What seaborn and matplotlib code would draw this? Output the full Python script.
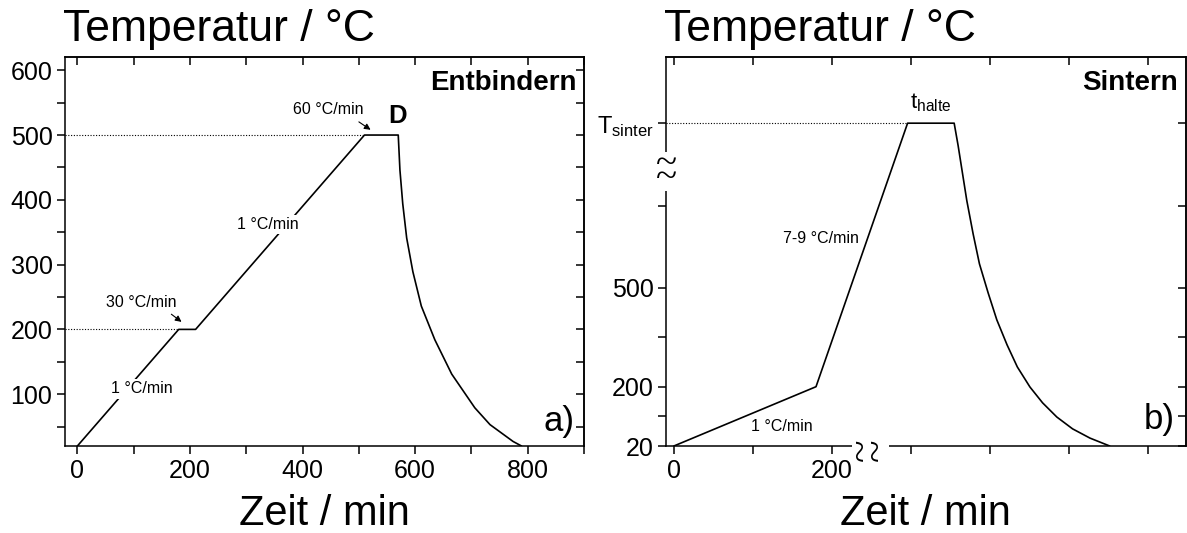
import matplotlib
matplotlib.use("Agg")
import matplotlib.pyplot as plt
from matplotlib.patches import Rectangle
import seaborn as sns
import pandas as pd

# ---------------- data ----------------
# a) Entbindern (debinding)
left_time = [0, 180, 210, 510, 570, 573, 578, 585, 596, 611, 635, 665, 706, 733, 774, 789]
left_temp = [20, 200, 200, 500, 500, 446, 394, 341, 289, 236, 184, 131, 79, 53, 27, 20]
left_hold_levels = [200, 500]

left_xticks = [0, 100, 200, 300, 400, 500, 600, 700, 800, 900]
left_xticklabels = ["0", "", "200", "", "400", "", "600", "", "800", ""]
left_yticks = [50, 100, 150, 200, 250, 300, 350, 400, 450, 500, 550, 600]
left_yticklabels = ["", "100", "", "200", "", "300", "", "400", "", "500", "", "600"]

# b) Sintern (sintering), broken temperature axis
right_time = [0, 180, 296, 355, 360, 365, 371, 379, 387, 398, 409, 422, 435, 451, 467, 485, 505, 527, 552]
right_temp = [20, 200, 1000, 1000, 932, 856, 765, 664, 573, 485, 403, 327, 260, 199, 151, 108, 72, 44, 20]
right_hold_levels = [1000]

right_xticks = [0, 100, 200, 300, 400, 500, 600]
right_xticklabels = ["0", "", "200", "", "", "", ""]
right_yticks = [20, 110, 200, 350, 500, 750, 1000]
right_yticklabels = ["20", "", "200", "", "500", "", r"$\mathregular{T_{sinter}}$"]

# axis breaks of panel b)
brk_y = 853              # temperature at the break of the y axis
brk_y_half = 60          # half height of the spine gap (data units)
brk_x = 249              # time at the break of the x axis
brk_x_half = 23          # half width of the spine gap (data units)

# ---------------- style ----------------
sns.set_style("ticks")
plt.rcParams["font.family"] = ["Liberation Sans", "DejaVu Sans"]
plt.rcParams["mathtext.fontset"] = "custom"
plt.rcParams["mathtext.rm"] = "Liberation Sans"
for k in ["text.color", "axes.labelcolor", "xtick.color", "ytick.color", "axes.edgecolor"]:
    plt.rcParams[k] = "black"
plt.rcParams["axes.linewidth"] = 1.1

W, H = 1187, 533
fig = plt.figure(figsize=(W / 100, H / 100), dpi=100)
axL = fig.add_axes([65 / W, (H - 446) / H, (584 - 65) / W, (446 - 57.3) / H])
axR = fig.add_axes([666 / W, (H - 446) / H, (1185.5 - 666) / W, (446 - 57.3) / H])

dfL = pd.DataFrame({"Zeit": left_time, "Temperatur": left_temp})
dfR = pd.DataFrame({"Zeit": right_time, "Temperatur": right_temp})

sns.lineplot(data=dfL, x="Zeit", y="Temperatur", ax=axL, color="black", lw=1.2,
             sort=False, estimator=None)
sns.lineplot(data=dfR, x="Zeit", y="Temperatur", ax=axR, color="black", lw=1.2,
             sort=False, estimator=None)

axL.set_xlim(-22, 900)
axL.set_ylim(20, 620)
axR.set_xlim(-10, 648)
axR.set_ylim(20, 1200)

# dotted guide lines from the y axis to the start of each hold
for ax, times, temps, levels in [(axL, left_time, left_temp, left_hold_levels),
                                 (axR, right_time, right_temp, right_hold_levels)]:
    x0 = ax.get_xlim()[0]
    for lev in levels:
        t_start = times[temps.index(lev)]
        ax.plot([x0, t_start], [lev, lev], color="black", lw=0.8,
                linestyle=(0, (1, 1.5)), zorder=1)


def style_axis(ax, xt, xtl, yt, ytl):
    ax.set_xticks(xt)
    ax.set_xticklabels(xtl)
    ax.set_yticks(yt)
    ax.set_yticklabels(ytl)
    ax.tick_params(direction="out", length=6, width=1.1, labelsize=18, pad=3,
                   colors="black")
    ax.set_xlabel("")
    ax.set_ylabel("")
    for s in ax.spines.values():
        s.set_visible(True)
        s.set_linewidth(1.1)
        s.set_color("black")
    secx = ax.secondary_xaxis("top")
    secx.set_xticks(xt)
    secx.tick_params(direction="in", length=6, width=1.1, labeltop=False, colors="black")
    secy = ax.secondary_yaxis("right")
    secy.set_yticks(yt)
    secy.tick_params(direction="in", length=6, width=1.1, labelright=False, colors="black")


style_axis(axL, left_xticks, left_xticklabels, left_yticks, left_yticklabels)
style_axis(axR, right_xticks, right_xticklabels, right_yticks, right_yticklabels)
axR.get_yticklabels()[-1].set_fontsize(17)

# axis titles
for ax in (axL, axR):
    ax.text(-0.003, 1.042, "Temperatur / °C", transform=ax.transAxes,
            ha="left", va="baseline", fontsize=32)
    ax.text(0.5, -0.203, "Zeit / min", transform=ax.transAxes,
            ha="center", va="baseline", fontsize=30)

# panel annotations (left)
axL.text(0.9865, 0.916, "Entbindern", transform=axL.transAxes, ha="right",
         va="baseline", fontsize=20, fontweight="bold")
axL.text(0.981, 0.062, "a)", transform=axL.transAxes, ha="right", va="center", fontsize=25)
axL.text(552, 518.7, "D", ha="left", va="baseline", fontsize=18.5, fontweight="bold")
axL.text(446, 533, "60 °C/min", ha="center", va="baseline", fontsize=11.5)
axL.annotate("", xy=(525, 505.7), xytext=(496, 522.7),
             arrowprops=dict(arrowstyle="-|>", color="black", lw=0.8, mutation_scale=9))
axL.text(113, 241.7, "30 °C/min", ha="center", va="center", fontsize=11.5)
axL.annotate("", xy=(189, 209), xytext=(163, 226),
             arrowprops=dict(arrowstyle="-|>", color="black", lw=0.8, mutation_scale=9))
axL.text(338, 362, "1 °C/min", ha="center", va="center", fontsize=11.5,
         bbox=dict(facecolor="white", edgecolor="none", pad=1.5), zorder=4)
axL.text(115, 108, "1 °C/min", ha="center", va="center", fontsize=11.5,
         bbox=dict(facecolor="white", edgecolor="none", pad=1.5), zorder=4)

# panel annotations (right)
axR.text(0.9846, 0.916, "Sintern", transform=axR.transAxes, ha="right",
         va="baseline", fontsize=20, fontweight="bold")
axR.text(0.979, 0.067, "b)", transform=axR.transAxes, ha="right", va="center", fontsize=25)
axR.text(325, 1046, r"$\mathregular{t_{halte}}$", ha="center", va="baseline", fontsize=16)
axR.text(186, 649, "7-9 °C/min", ha="center", va="center", fontsize=11.5,
         bbox=dict(facecolor="white", edgecolor="none", pad=1.0), zorder=4)
axR.text(137, 80, "1 °C/min", ha="center", va="center", fontsize=11.5)

# axis-break marks: white gap in the spine + wavy strokes
ytr = axR.get_yaxis_transform()
xtr = axR.get_xaxis_transform()
axR.add_patch(Rectangle((-0.02, brk_y - brk_y_half), 0.04, 2 * brk_y_half, transform=ytr,
                        facecolor="white", edgecolor="none", clip_on=False, zorder=6))
axR.add_patch(Rectangle((brk_x - brk_x_half, -0.02), 2 * brk_x_half, 0.04, transform=xtr,
                        facecolor="white", edgecolor="none", clip_on=False, zorder=6))
axR.text(0, brk_y, "~\n~", transform=ytr, ha="center", va="center", multialignment="center",
         fontsize=28, family="Liberation Serif", linespacing=0.2, clip_on=False, zorder=7)
axR.annotate("~\n~", xy=(brk_x, 0), xycoords=xtr, xytext=(0, -3), textcoords="offset points",
             ha="center", va="center", multialignment="center", rotation=90, fontsize=30,
             family="Liberation Serif", linespacing=0.2, annotation_clip=False, zorder=7)

fig.savefig("out.png", dpi=100)
